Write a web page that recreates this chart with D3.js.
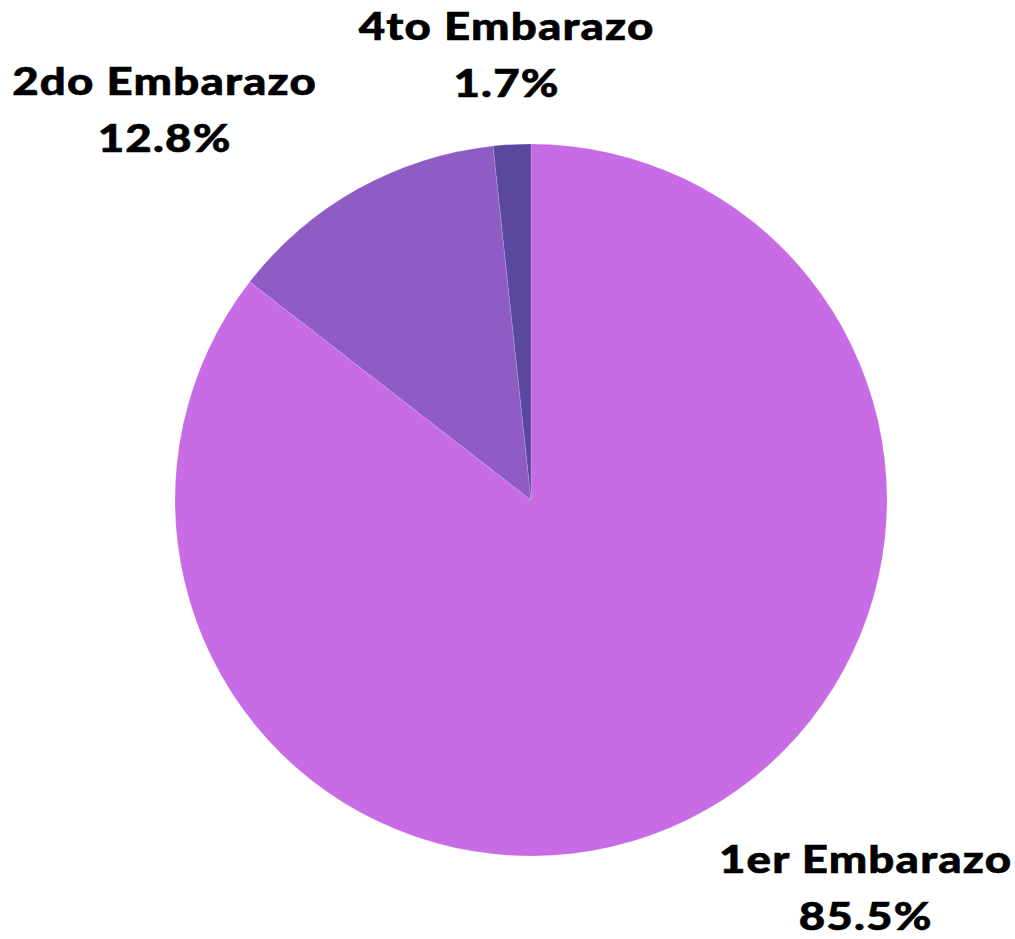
<!DOCTYPE html>
<html>
<head>
<meta charset="utf-8">
<script src="https://cdn.jsdelivr.net/npm/d3@7"></script>
<style>
  html, body { margin: 0; padding: 0; background: #ffffff; }
  svg { display: block; }
  .lbl { font-family: "Lato", "Open Sans", sans-serif; font-weight: 900; fill: #000; stroke: #000; stroke-width: 0.6px; letter-spacing: 1px; }
</style>
</head>
<body>
<svg id="chart" width="1015" height="939"></svg>
<script>
// Pregnancy order shares (%)
const categories = ["1er Embarazo", "2do Embarazo", "4to Embarazo"];
const values = [85.5, 12.8, 1.7];
const colors = ["#c86ce6", "#8f5bc4", "#5a48a0"];

const W = 1015, H = 939;
const cx = 531, cy = 500, R = 356;

const svg = d3.select("#chart");
const g = svg.append("g").attr("transform", `translate(${cx},${cy})`);

const data = categories.map((c, i) => ({ name: c, value: values[i], color: colors[i] }));

const pie = d3.pie().value(d => d.value).sort(null);
const arc = d3.arc().innerRadius(0).outerRadius(R);
const arcs = pie(data);

g.selectAll("path.slice")
  .data(arcs)
  .enter().append("path")
  .attr("class", "slice")
  .attr("d", arc)
  .attr("fill", d => d.data.color)
  .attr("stroke", "rgba(255,255,255,0.25)")
  .attr("stroke-width", 0.6);

// Label placement: outside-end labels, nudged so they stay on canvas
const labelOffsets = {
  "1er Embarazo": [334, 373],
  "2do Embarazo": [-367, -405],
  "4to Embarazo": [-25, -460]
};

const fmt = v => v.toFixed(1) + "%";
const lbl = g.selectAll("g.label")
  .data(arcs)
  .enter().append("g")
  .attr("class", "label")
  .attr("transform", d => {
    const o = labelOffsets[d.data.name];
    return `translate(${o[0]},${o[1]}) scale(1.2,1)`;
  });

lbl.append("text")
  .attr("class", "lbl")
  .attr("text-anchor", "middle")
  .attr("font-size", 38)
  .attr("x", 0.5)
  .attr("y", 0)
  .text(d => d.data.name);

lbl.append("text")
  .attr("class", "lbl")
  .attr("text-anchor", "middle")
  .attr("font-size", 38)
  .attr("x", 0.5)
  .attr("y", 57)
  .text(d => fmt(d.data.value));
</script>
</body>
</html>
